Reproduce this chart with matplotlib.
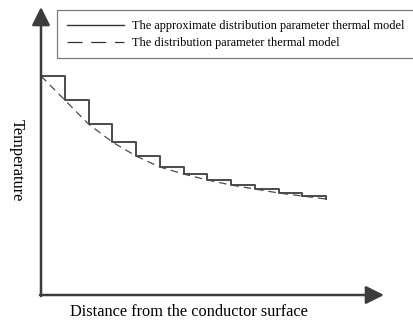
import matplotlib
matplotlib.use('Agg')
import matplotlib.pyplot as plt
from matplotlib.lines import Line2D
from matplotlib.patches import Rectangle

plt.rcParams['font.family'] = ['Liberation Serif', 'DejaVu Serif']

# distance from conductor surface (step boundaries, arbitrary units)
distancia = [0, 1, 2, 3, 4, 5, 6, 7, 8, 9, 10, 11, 12]
# temperature of the distributed model at each boundary (arbitrary units)
temperatura = [219, 195, 171, 153, 139, 128, 121, 115, 110, 106, 102, 99, 96]

rotulo_aprox = 'The approximate distribution parameter thermal model'
rotulo_distr = 'The distribution parameter thermal model'

COR_EIXO = '#3c3c3c'
COR_LINHA = '#4a4a4a'

fig = plt.figure(figsize=(4.14, 3.2), dpi=100)
ax = fig.add_axes([41 / 414, 25 / 320, 343 / 414, 288 / 320])
ax.set_xlim(0, 14.44)
ax.set_ylim(0, 288)
ax.axis('off')

# stepped approximation: each segment keeps the value at its left boundary
ax.step(distancia, temperatura, where='post', color=COR_LINHA, lw=1.4)
# distributed model (smooth curve through the boundary values)
ax.plot(distancia, temperatura, color=COR_LINHA, lw=0.9, ls=(0, (6, 4)))

# axis arrows
seta = dict(arrowstyle='-|>,head_length=1.0,head_width=0.5', color=COR_EIXO,
            lw=1.8, mutation_scale=11, shrinkA=0, shrinkB=0)
ax.annotate('', xy=(1, 0), xytext=(-0.003, 0), xycoords='axes fraction',
            arrowprops=seta)
ax.annotate('', xy=(0, 1), xytext=(0, -0.004), xycoords='axes fraction',
            arrowprops=seta)

fig.text(189 / 414, 8 / 320, 'Distance from the conductor surface',
         ha='center', va='center', fontsize=11.8)
fig.text(17 / 414, 160 / 320, 'Temperature', rotation=270,
         ha='center', va='center', fontsize=11.8)

# legend box runs past the right edge of the figure, as in the original
fig.add_artist(Rectangle((57 / 414, 262 / 320), 1.0, 48 / 320,
                         transform=fig.transFigure, facecolor='white',
                         edgecolor='#7a7a7a', lw=0.9, zorder=2))
alcas = [Line2D([], [], color='#333333', lw=1.0),
         Line2D([], [], color='#333333', lw=0.9, ls=(0, (12, 7)))]
leg = fig.legend(alcas, [rotulo_aprox, rotulo_distr], loc='upper left',
                 bbox_to_anchor=(57 / 414, 310 / 320),
                 fontsize=8.9, frameon=False,
                 handlelength=4.6, handletextpad=0.65, borderpad=0.8,
                 labelspacing=0.42, borderaxespad=0)
leg.set_zorder(3)

fig.savefig('out.png', dpi=100)
